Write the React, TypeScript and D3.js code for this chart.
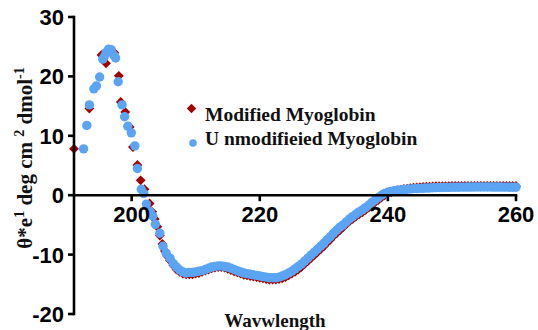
import React from "react";
import * as d3 from "d3";

const W = 538;
const H = 330;

const xTicks = [200, 220, 240, 260];
const yTicks = [-20, -10, 0, 10, 20, 30];

// Modified myoglobin – sparse points around the positive peak
const modPeakWave = [191.0, 193.4, 195.3, 196.0, 197.0, 197.3, 198.0, 198.3, 199.0, 199.7, 200.2, 200.9, 201.4, 202.0, 202.8, 203.2, 203.6, 204.0, 204.4, 204.8, 205.2, 205.6, 206.0, 206.5, 207.0, 207.5, 208.0, 208.5];
const modPeakVal = [7.8, 14.6, 23.6, 22.2, 23.9, 24.0, 20.1, 15.7, 14.0, 11.5, 8.1, 5.1, 2.5, 1.0, -1.4, -2.8, -4.0, -5.3, -6.8, -8.2, -9.4, -10.3, -11.0, -11.8, -12.5, -12.9, -13.2, -13.3];

// Unmodified myoglobin – sparse points around the positive peak
const unmodPeakWave = [192.5, 193.0, 193.4, 194.1, 194.5, 195.0, 195.5, 195.7, 196.0, 196.4, 196.8, 197.2, 197.5, 197.9, 198.5, 198.9, 199.4, 199.95, 200.5, 200.9, 201.5, 201.9, 202.3, 202.9, 203.3, 203.7, 204.4, 204.9, 205.4, 206.0, 206.5, 207.0, 207.5, 208.0, 208.5];
const unmodPeakVal = [7.8, 11.75, 15.2, 17.9, 18.4, 19.9, 22.9, 23.3, 24.0, 24.6, 24.5, 23.6, 23.1, 19.1, 15.2, 13.2, 11.6, 10.5, 8.3, 4.5, 1.0, 0.3, -1.5, -2.8, -3.5, -4.9, -6.4, -8.6, -9.8, -10.6, -11.5, -12.1, -12.6, -12.9, -13.1];

// Dense part of the spectra, 209 nm onward in 0.5 nm steps
const tailStart = 209;
const tailStep = 0.5;
const unmodTailVal = [
  -13.0, -13.0, -12.9, -12.8, -12.7, -12.5, -12.3, -12.1, -12.0, -11.9,
  -11.9, -12.0, -12.1, -12.3, -12.5, -12.7, -12.9, -13.1, -13.2, -13.3,
  -13.4, -13.5, -13.6, -13.7, -13.8, -13.9, -13.9, -13.9, -13.8, -13.6,
  -13.4, -13.1, -12.8, -12.4, -12.0, -11.6, -11.1, -10.6, -10.1, -9.6,
  -9.1, -8.6, -8.1, -7.5, -7.0, -6.4, -5.9, -5.4, -5.0, -4.5,
  -4.0, -3.6, -3.2, -2.8, -2.5, -2.1, -1.7, -1.2, -0.8, -0.4,
  0.0, 0.3, 0.5, 0.65, 0.75, 0.85, 0.9, 0.95, 1.0, 1.05,
  1.1, 1.12, 1.15, 1.18, 1.2, 1.22, 1.25, 1.27, 1.3, 1.3,
  1.32, 1.32, 1.35, 1.35, 1.35, 1.36, 1.36, 1.37, 1.37, 1.38,
  1.38, 1.38, 1.38, 1.38, 1.38, 1.37, 1.37, 1.37, 1.36, 1.36,
  1.35, 1.35, 1.35,
];
const modTailVal = [
  -13.3, -13.3, -13.2, -13.1, -12.9, -12.7, -12.5, -12.3, -12.2, -12.1,
  -12.1, -12.2, -12.4, -12.6, -12.8, -13.0, -13.2, -13.4, -13.5, -13.6,
  -13.7, -13.8, -13.9, -14.0, -14.1, -14.2, -14.2, -14.2, -14.1, -14.0,
  -13.8, -13.5, -13.2, -12.9, -12.5, -12.1, -11.6, -11.1, -10.6, -10.1,
  -9.6, -9.1, -8.6, -8.0, -7.5, -6.9, -6.4, -5.9, -5.4, -4.9,
  -4.4, -4.0, -3.6, -3.2, -2.9, -2.5, -2.1, -1.6, -1.2, -0.8,
  -0.4, 0.0, 0.3, 0.5, 0.7, 0.85, 0.95, 1.05, 1.1, 1.2,
  1.25, 1.3, 1.35, 1.4, 1.42, 1.45, 1.47, 1.5, 1.5, 1.52,
  1.52, 1.53, 1.55, 1.55, 1.55, 1.55, 1.56, 1.56, 1.56, 1.57,
  1.57, 1.57, 1.57, 1.57, 1.57, 1.56, 1.56, 1.56, 1.55, 1.55,
  1.55, 1.55, 1.55,
];

const seriesNames = ["Modified Myoglobin", "U nmodifieied Myoglobin"];
const RED = "#a30000";
const BLUE = "#5ba4f4";

const x = d3.scaleLinear().domain([191, 260]).range([74, 516]);
const y = d3.scaleLinear().domain([-20, 30]).range([314, 17]);

function points(peakW: number[], peakV: number[], tail: number[]) {
  const p = peakW.map((w, i) => [w, peakV[i]] as [number, number]);
  tail.forEach((v, i) => p.push([tailStart + i * tailStep, v]));
  return p;
}

const modPts = points(modPeakWave, modPeakVal, modTailVal);
const unmodPts = points(unmodPeakWave, unmodPeakVal, unmodTailVal);

const diamond = d3.symbol().type(d3.symbolDiamond2).size(62)();
const legendDiamond = d3.symbol().type(d3.symbolDiamond2).size(56)();

export default function App() {
  const tickFont = "Liberation Sans, Arial, sans-serif";
  const serif = "Liberation Serif, Times New Roman, serif";
  return (
    <svg width={W} height={H} style={{ position: "absolute", left: 0, top: 0, background: "#fff" }}>
      {/* data: modified drawn first (beneath) */}
      <g>
        {modPts.map((d, i) => (
          <path key={"m" + i} d={diamond} transform={`translate(${x(d[0])},${y(d[1])})`} fill={RED} />
        ))}
      </g>
      <g>
        {unmodPts.map((d, i) => (
          <circle key={"u" + i} cx={x(d[0])} cy={y(d[1])} r={4.7} fill={BLUE} />
        ))}
      </g>

      {/* axes */}
      <g stroke="#000" strokeWidth={2.6} fill="none">
        <line x1={x(191)} x2={x(191)} y1={y(30) - 1.3} y2={y(-20) + 1.3} />
        <line x1={x(191)} x2={x(260) + 1.3} y1={y(0)} y2={y(0)} />
        {yTicks.map((t) => (
          <line key={"yt" + t} x1={x(191) - 6} x2={x(191)} y1={y(t)} y2={y(t)} />
        ))}
        {xTicks.map((t) => (
          <line key={"xt" + t} x1={x(t)} x2={x(t)} y1={y(0)} y2={y(0) + 6} />
        ))}
      </g>
      {yTicks.map((t) => (
        <text key={"yl" + t} x={64} y={y(t)} dy="0.36em" textAnchor="end" fontFamily={tickFont} fontWeight="bold" fontSize={22} fill="#000">
          {t}
        </text>
      ))}
      {xTicks.map((t) => (
        <text key={"xl" + t} x={x(t)} y={y(0) + 27} textAnchor="middle" fontFamily={tickFont} fontWeight="bold" fontSize={22} fill="#000">
          {t}
        </text>
      ))}

      {/* axis titles */}
      <text x={275} y={327} textAnchor="middle" fontFamily={serif} fontWeight="bold" fontSize={19} fill="#111">
        Wavwlength
      </text>
      <text transform="translate(32,158) rotate(-90)" textAnchor="middle" fontFamily={serif} fontWeight="bold" fontSize={21} fill="#111">
        θ*e<tspan dy="-8" fontSize={14}>1</tspan>
        <tspan dy="8"> deg cm </tspan>
        <tspan dy="-8" fontSize={14}>2</tspan>
        <tspan dy="8"> dmol</tspan>
        <tspan dy="-8" fontSize={14}>-1</tspan>
      </text>

      {/* legend */}
      <path d={legendDiamond} transform="translate(191.5,108.5)" fill={RED} />
      <circle cx={193} cy={143} r={3.8} fill={BLUE} />
      <text x={205} y={120.5} fontFamily={serif} fontWeight="bold" fontSize={19.5} fill="#111">
        {seriesNames[0]}
      </text>
      <text x={205} y={144.5} fontFamily={serif} fontWeight="bold" fontSize={19.5} fill="#111">
        {seriesNames[1]}
      </text>
    </svg>
  );
}
